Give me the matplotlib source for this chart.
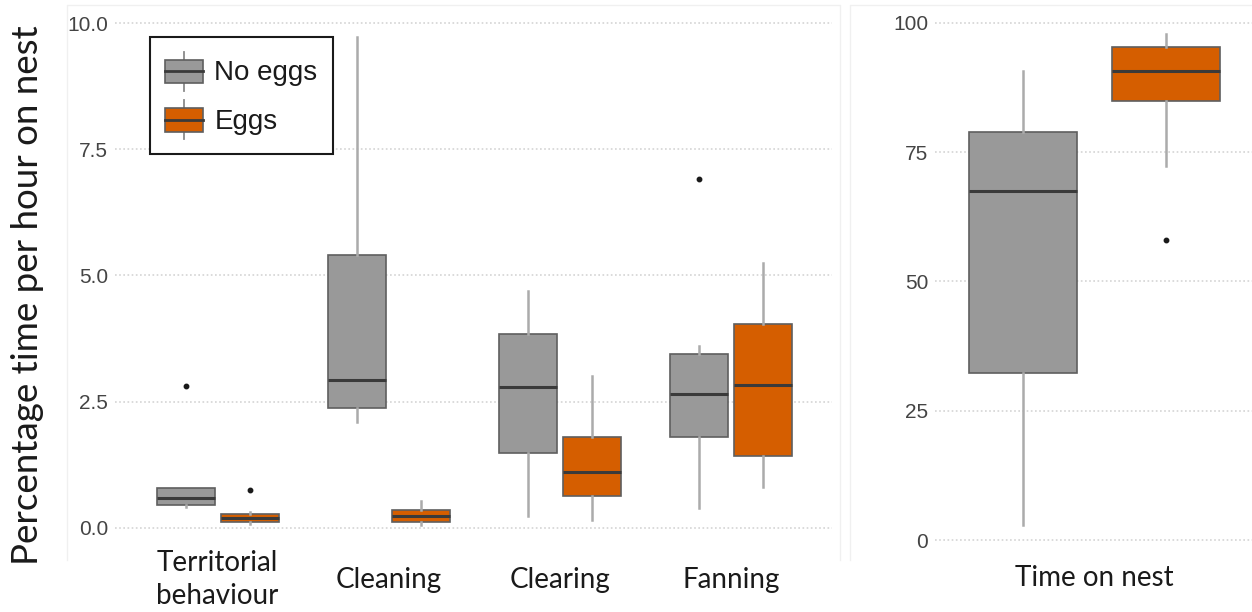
import numpy as np
import matplotlib
matplotlib.use("Agg")
import matplotlib.pyplot as plt
from matplotlib.patches import Patch, Rectangle
from matplotlib.lines import Line2D
from matplotlib.legend_handler import HandlerBase
from matplotlib.ticker import FormatStrFormatter

# behaviours (left panel)
behaviours = ["Territorial\nbehaviour", "Cleaning", "Clearing", "Fanning"]

noeggs_med = [0.59, 2.92, 2.79, 2.65]
noeggs_q1 = [0.46, 2.37, 1.49, 1.80]
noeggs_q3 = [0.79, 5.40, 3.85, 3.44]
noeggs_lo = [0.42, 2.10, 0.23, 0.39]
noeggs_hi = [0.79, 9.73, 4.70, 3.61]
noeggs_out = [[2.81], [], [], [6.92]]

eggs_med = [0.19, 0.24, 1.10, 2.83]
eggs_q1 = [0.125, 0.12, 0.64, 1.43]
eggs_q3 = [0.27, 0.355, 1.81, 4.04]
eggs_lo = [0.08, 0.05, 0.15, 0.81]
eggs_hi = [0.32, 0.54, 3.00, 5.24]
eggs_out = [[0.75], [], [], []]

# time on nest (right panel)
nest_label = ["Time on nest"]
nest_noeggs = dict(med=67.5, q1=32.3, q3=78.9, whislo=3.0, whishi=90.6, fliers=[])
nest_eggs = dict(med=90.6, q1=84.8, q3=95.3, whislo=72.3, whishi=97.9, fliers=[58.0])

groups = ["No eggs", "Eggs"]
colors = ["#999999", "#D55E00"]


def make_stats(med, q1, q3, lo, hi, out):
    return [dict(med=m, q1=a, q3=b, whislo=l, whishi=h, fliers=f)
            for m, a, b, l, h, f in zip(med, q1, q3, lo, hi, out)]


def draw_boxes(ax, stats, pos, width, color):
    ax.bxp(stats, positions=pos, widths=width, patch_artist=True, showcaps=False,
           boxprops=dict(facecolor=color, edgecolor="#5f5f5f", linewidth=1.2),
           medianprops=dict(color="#3a3a3a", linewidth=2.2),
           whiskerprops=dict(color="#ababab", linewidth=1.8),
           flierprops=dict(marker="o", markerfacecolor="#1a1a1a",
                           markeredgecolor="#1a1a1a", markersize=3.2))


class BoxHandler(HandlerBase):
    def create_artists(self, legend, orig_handle, xdescent, ydescent,
                       width, height, fontsize, trans):
        fc = orig_handle.get_facecolor()
        x0, y0, h = -xdescent, -ydescent, height
        cx = x0 + width / 2
        w1 = Line2D([cx, cx], [y0, y0 + 0.19 * h], color="#8a8a8a", lw=1.3, transform=trans)
        w2 = Line2D([cx, cx], [y0 + 0.81 * h, y0 + h], color="#8a8a8a", lw=1.3, transform=trans)
        r = Rectangle((x0, y0 + 0.19 * h), width, 0.62 * h, facecolor=fc,
                      edgecolor="#5f5f5f", lw=1.2, transform=trans)
        med = Line2D([x0, x0 + width], [y0 + h / 2] * 2, color="#3a3a3a", lw=2, transform=trans)
        return [w1, w2, r, med]


W, H = 1252, 612
fig = plt.figure(figsize=(W / 100, H / 100), dpi=100)


def px_rect(x0, y0, x1, y1):
    return [x0 / W, 1 - y1 / H, (x1 - x0) / W, (y1 - y0) / H]


# faint panel frames (no bottom edge, it would run through the labels)
for xs, ys in [([67, 67, 840, 840], [560, 5, 5, 560]), ([850, 850, 1252], [560, 5, 5])]:
    fig.add_artist(Line2D([v / W for v in xs], [1 - v / H for v in ys],
                          transform=fig.transFigure, color="#f0f0f0", lw=1))

ax1 = fig.add_axes(px_rect(115, 15, 832, 540))
ax2 = fig.add_axes(px_rect(935, 15, 1252, 552))

x = np.arange(1, len(behaviours) + 1)
draw_boxes(ax1, make_stats(noeggs_med, noeggs_q1, noeggs_q3, noeggs_lo, noeggs_hi, noeggs_out),
           x - 0.187, 0.34, colors[0])
draw_boxes(ax1, make_stats(eggs_med, eggs_q1, eggs_q3, eggs_lo, eggs_hi, eggs_out),
           x + 0.187, 0.34, colors[1])

draw_boxes(ax2, [nest_noeggs], [1 - 0.1875], 0.283, colors[0])
draw_boxes(ax2, [nest_eggs], [1 + 0.1875], 0.283, colors[1])

ax1.set_xlim(0.4, 4.59)
ax1.set_ylim(-0.24, 10.16)
ax1.set_yticks([0, 2.5, 5, 7.5, 10])
ax1.yaxis.set_major_formatter(FormatStrFormatter("%.1f"))
ax1.set_xticks(x, behaviours)

ax2.set_xlim(0.581, 1.413)
ax2.set_ylim(-2.3, 101.5)
ax2.set_yticks([0, 25, 50, 75, 100])
ax2.set_xticks([1], nest_label)

for ax, pad in [(ax1, 28.5), (ax2, 18.5)]:
    for s in ax.spines.values():
        s.set_visible(False)
    ax.set_axisbelow(True)
    ax.yaxis.grid(True, linestyle=(0, (1, 1.5)), color="#d4d4d4", linewidth=1.2)
    ax.tick_params(axis="y", length=0, pad=5, labelsize=15, labelcolor="#444444")
    ax.tick_params(axis="x", length=0, pad=pad)
    for t in ax.get_yticklabels():
        t.set_family("Liberation Sans")
    for t in ax.get_xticklabels():
        t.set_family("Lato")
        t.set_fontsize(20)
        t.set_color("#1a1a1a")
        t.set_va("center")
        t.set_linespacing(1.32)

fig.text(28 / W, 1 - 295 / H, "Percentage time per hour on nest", rotation=90,
         fontsize=26.5, family="Lato", ha="center", va="center", color="#1a1a1a")

handles = [Patch(facecolor=c) for c in colors]
leg = ax1.legend(handles, groups, handler_map={Patch: BoxHandler()},
                 loc="upper left", bbox_to_anchor=(150 / W, 1 - 37 / H),
                 bbox_transform=fig.transFigure, borderaxespad=0,
                 prop=dict(family="Liberation Sans", size=20),
                 handlelength=1.37, handleheight=1.75, handletextpad=0.4,
                 labelspacing=0.35, borderpad=0.55, fancybox=False, framealpha=1)
leg.get_frame().set_edgecolor("#1a1a1a")
leg.get_frame().set_linewidth(1.5)
for t in leg.get_texts():
    t.set_color("#1a1a1a")

fig.savefig("out.png", dpi=100)
